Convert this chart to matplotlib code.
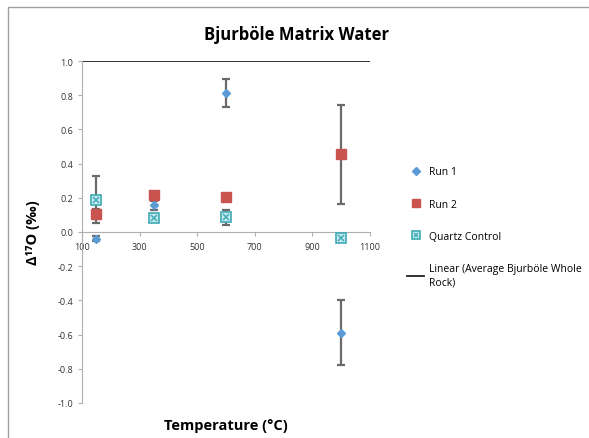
import matplotlib
matplotlib.use("Agg")
import matplotlib.pyplot as plt
from matplotlib.patches import Rectangle
from matplotlib.legend_handler import HandlerTuple

plt.rcParams['font.family'] = ['Open Sans', 'DejaVu Sans']

temps = [150, 350, 600, 1000]
run1 = [-0.04, 0.155, 0.815, -0.59]
run1_err = [0.015, 0.025, 0.082, 0.19]
run2 = [0.105, 0.215, 0.205, 0.455]
run2_err = [0.03, 0.0, 0.0, 0.29]
quartz = [0.19, 0.08, 0.085, -0.035]
quartz_err = [0.14, 0.0, 0.043, 0.02]
linear_x = [100, 1100]
linear_y = [1.0, 1.0]

xticks = [100, 300, 500, 700, 900, 1100]
yticks = [-1.0, -0.8, -0.6, -0.4, -0.2, 0.0, 0.2, 0.4, 0.6, 0.8, 1.0]

c1 = '#5B9BD5'
c2 = '#C9534F'
c3 = '#3FA9B5'
ecol = '#6a6a6a'

fig = plt.figure(figsize=(5.89, 4.39), dpi=100)
ax = fig.add_axes([82/589, 1-404/439, (370-82)/589, (404-62)/439])

ekw = dict(fmt='none', ecolor=ecol, elinewidth=1.6, capsize=3, capthick=1.6, zorder=2)
ax.errorbar(temps, run1, yerr=run1_err, **ekw)
ax.errorbar(temps, run2, yerr=run2_err, **ekw)
ax.errorbar(temps, quartz, yerr=quartz_err, **ekw)

h1, = ax.plot(temps, run1, linestyle='none', marker='D', markersize=4.5, color=c1, zorder=3)
h2, = ax.plot(temps, run2, linestyle='none', marker='s', markersize=6.5, color=c2, zorder=3)
h3a, = ax.plot(temps, quartz, linestyle='none', marker='s', markersize=6.5, color=c3,
               markerfacecolor='#c6ecef', markeredgewidth=1.2, zorder=4)
h3b, = ax.plot(temps, quartz, linestyle='none', marker='x', markersize=4, color=c3,
               markeredgewidth=1.1, zorder=5)
h4, = ax.plot(linear_x, linear_y, color='#222222', linewidth=1.3, zorder=2)

ax.set_xlim(100, 1100)
ax.set_ylim(-1.0, 1.0)
ax.set_xticks(xticks)
ax.set_yticks(yticks)
ax.set_yticklabels([f'{v:.1f}' for v in yticks])
ax.set_xticklabels([str(v) for v in xticks])

for s in ['top', 'right']:
    ax.spines[s].set_visible(False)
ax.spines['bottom'].set_position(('data', 0))
ax.spines['bottom'].set_color('#b0b0b0')
ax.spines['left'].set_color('#b0b0b0')
ax.tick_params(axis='both', labelsize=6.5, colors='#b0b0b0', labelcolor='#333333', length=3)
ax.tick_params(axis='x', pad=4)

ax.set_xlabel('Temperature (°C)', fontsize=10.5, fontweight='bold')
ax.xaxis.set_label_coords(0.5, -0.045)
ax.set_ylabel('\u0394\u00b9\u2077O (\u2030)', fontsize=10.5, fontweight='bold')
ax.yaxis.set_label_coords(-0.145, 0.5)

fig.text(297/589, 1-35/439, 'Bjurböle Matrix Water', ha='center', va='center',
         fontsize=12, fontweight='bold')

fig.legend([h1, h2, (h3a, h3b), h4],
           ['Run 1', 'Run 2', 'Quartz Control', 'Linear (Average Bjurböle Whole\nRock)'],
           handler_map={tuple: HandlerTuple(ndivide=1, pad=0)},
           loc='upper left', bbox_to_anchor=(398/589, 1-158/439), frameon=False,
           fontsize=7.5, labelspacing=2.05, handlelength=1.6, handletextpad=0.5,
           markerscale=0.85)

fig.patches.append(Rectangle((8/589, -0.1), 1.2, 1.1 - 8/439, transform=fig.transFigure,
                             fill=False, edgecolor='#a0a0a0', linewidth=1.0))

fig.savefig('out.png', dpi=100)
